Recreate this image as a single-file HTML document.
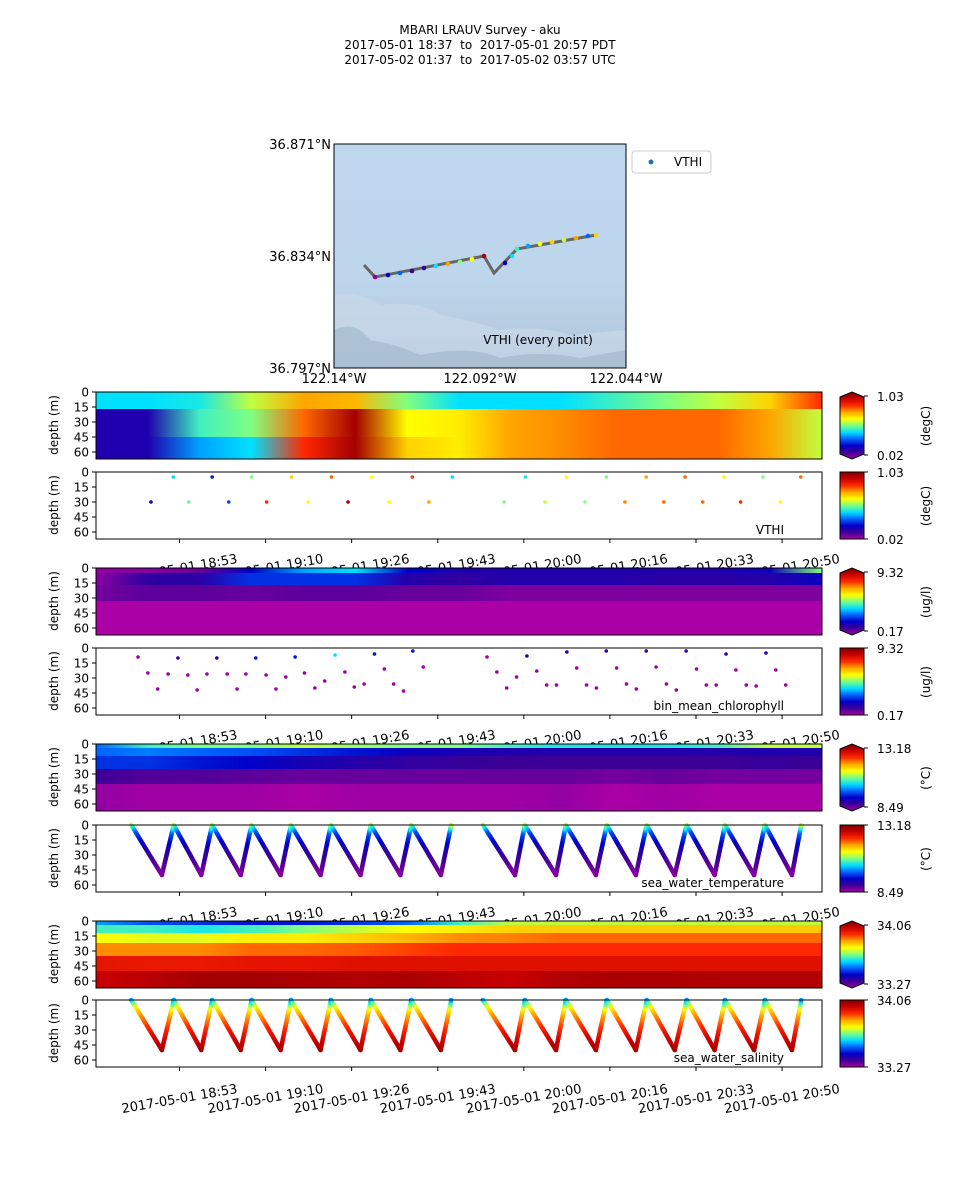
<!DOCTYPE html>
<html><head><meta charset="utf-8">
<style>
html,body{margin:0;padding:0;background:#fff;}
svg{display:block;font-family:"DejaVu Sans","Liberation Sans",sans-serif;}
</style></head>
<body>
<svg id="fig" width="960" height="1200" viewBox="0 0 960 1200" xmlns="http://www.w3.org/2000/svg">
<g font-size="12" text-anchor="middle" fill="#000">
<text x="480" y="34">MBARI LRAUV Survey - aku</text>
<text x="480" y="49">2017-05-01 18:37 &#160;to &#160;2017-05-01 20:57 PDT</text>
<text x="480" y="64">2017-05-02 01:37 &#160;to &#160;2017-05-02 03:57 UTC</text>
</g>
<defs>
<linearGradient id="mapbg" x1="0" y1="0" x2="0" y2="1">
<stop offset="0" stop-color="#bfd7ee"/><stop offset="0.6" stop-color="#bed6ec"/><stop offset="0.85" stop-color="#b5cbe0"/><stop offset="1" stop-color="#9fb7cc"/>
</linearGradient>
</defs>
<g id="map">
<rect x="334" y="144" width="292" height="224" fill="url(#mapbg)"/>
<path d="M334 295 Q360 290 380 305 Q420 300 440 315 Q470 320 500 330 Q540 325 570 335 L626 330 L626 368 L334 368 Z" fill="#c9d9e8" opacity="0.7"/>
<path d="M334 330 Q355 320 370 340 Q400 345 420 355 Q470 345 500 358 Q540 350 580 358 L626 350 L626 368 L334 368 Z" fill="#a3b9cd" opacity="0.7"/>
<polyline points="364,265 375,277 484,256 494,273 517,249 596,235" fill="none" stroke="#666" stroke-width="3"/>
<g id="mapdots"></g>
<text x="538" y="344" font-size="12" text-anchor="middle">VTHI (every point)</text>
<rect x="334" y="144" width="292" height="224" fill="none" stroke="#000" stroke-width="1"/>
<g font-size="13" fill="#000">
<text x="331" y="149" text-anchor="end">36.871°N</text>
<text x="331" y="261" text-anchor="end">36.834°N</text>
<text x="331" y="373" text-anchor="end">36.797°N</text>
<text x="334" y="383" text-anchor="middle">122.14°W</text>
<text x="480" y="383" text-anchor="middle">122.092°W</text>
<text x="626" y="383" text-anchor="middle">122.044°W</text>
</g>
<g>
<rect x="632" y="151" width="79" height="22" rx="3" fill="#fff" stroke="#ccc"/>
<circle cx="651" cy="162" r="2.5" fill="#1f77b4"/>
<text x="674" y="166" font-size="12">VTHI</text>
</g>
</g>
<g id="panels"></g>
</svg>
<script>
// ---- data ----
const tickLabels = ["2017-05-01 18:53","2017-05-01 19:10","2017-05-01 19:26","2017-05-01 19:43","2017-05-01 20:00","2017-05-01 20:16","2017-05-01 20:33","2017-05-01 20:50"];
const tickMinutes = [16.1, 32.7, 49.3, 65.9, 82.5, 99.1, 115.7, 132.3];
const depthTicks = [0, 15, 30, 45, 60];
const gridMinutes = [0,10,20,30,40,50,60,70,80,90,100,110,120,130,140];

const vthiBands = [[0,17],[17,45],[45,67]];
const vthiGrid = [
 [.40,.40,.42,.55,.70,.68,.50,.40,.40,.40,.45,.50,.55,.65,.80],
 [.15,.15,.45,.50,.75,.95,.60,.62,.70,.72,.75,.75,.75,.70,.55],
 [.15,.15,.35,.40,.80,.95,.65,.62,.70,.72,.75,.75,.75,.70,.55]];
const chlBands = [[0,5],[5,17],[17,33],[33,67]];
const chlGrid = [
 [.02,.03,.06,.20,.35,.40,.20,.15,.15,.15,.15,.15,.15,.18,.50],
 [.03,.12,.13,.25,.25,.25,.14,.12,.14,.14,.14,.13,.13,.14,.18],
 [.05,.07,.07,.06,.07,.07,.06,.06,.04,.04,.04,.04,.04,.04,.04],
 [.0,.0,.0,.0,.0,.0,.0,.0,.0,.0,.0,.0,.0,.0,.0]];
const tempBands = [[0,4],[4,12],[12,25],[25,40],[40,67]];
const tempGrid = [
 [.30,.45,.50,.50,.55,.52,.50,.50,.45,.42,.42,.42,.45,.55,.55],
 [.30,.32,.30,.28,.25,.22,.18,.16,.15,.14,.14,.14,.14,.15,.15],
 [.25,.25,.22,.20,.16,.14,.12,.11,.10,.10,.10,.10,.10,.11,.10],
 [.10,.08,.08,.07,.06,.06,.06,.06,.06,.06,.05,.06,.05,.05,.05],
 [.02,.01,.01,.01,.0,.01,.01,.01,.01,.02,.0,.01,.0,.0,.0]];
const salBands = [[0,4],[4,12],[12,22],[22,35],[35,50],[50,67]];
const salGrid = [
 [.35,.28,.25,.22,.22,.25,.30,.45,.55,.55,.55,.55,.55,.55,.55],
 [.45,.45,.42,.45,.50,.55,.60,.62,.65,.66,.66,.66,.66,.66,.66],
 [.60,.58,.58,.62,.62,.65,.68,.72,.73,.75,.75,.75,.75,.75,.75],
 [.72,.72,.72,.75,.75,.76,.78,.80,.80,.80,.80,.80,.80,.80,.80],
 [.85,.84,.84,.85,.85,.86,.86,.86,.86,.86,.86,.86,.86,.86,.86],
 [.90,.92,.95,.95,.94,.93,.94,.92,.90,.93,.94,.94,.93,.93,.93]];

const vthiTimes = [14.9,22.4,30.0,37.7,45.4,53.1,61.0,68.7,82.8,90.7,98.4,106.1,113.6,121.1,128.6,135.9,
                   10.6,17.9,25.6,32.9,40.9,48.6,56.5,64.2,78.7,86.6,94.3,102.0,109.5,117.0,124.3,132.0];
const vthiDepths = [5,5,5,5,5,5,5,5,5,5,5,5,5,5,5,5, 30,30,30,30,30,30,30,30,30,30,30,30,30,30,30,30];
const vthiValues = [.40,.22,.50,.65,.75,.60,.78,.40,.42,.60,.50,.70,.75,.60,.50,.75,
                    .15,.48,.27,.80,.60,.95,.60,.70,.50,.55,.50,.72,.75,.75,.80,.60];
const chlTimes = [8.1,10.0,11.9,13.9,15.8,17.7,19.5,21.4,23.3,25.3,27.2,28.9,30.8,32.8,34.7,36.6,38.4,40.2,42.2,44.1,46.1,48.0,49.8,51.7,53.7,55.6,57.4,59.3,61.1,63.1,
                  75.4,77.3,79.2,81.1,83.1,85.0,86.9,88.8,90.8,92.7,94.6,96.5,98.4,100.4,102.3,104.2,106.1,108.0,110.0,111.9,113.8,115.8,117.7,119.6,121.5,123.4,125.4,127.3,129.2,131.1,133.0];
const chlDepths = [9,25,41,26,10,27,42,26,10,26,41,26,10,27,41,29,9,25,40,33,7,24,39,36,6,21,36,43,3,19,
                   9,24,40,29,8,23,37,37,4,20,37,40,3,20,36,41,3,19,36,42,3,21,37,37,6,22,37,38,5,22,37];
const chlValues = [.01,.01,.01,.01,.12,.01,.01,.01,.12,.01,.01,.01,.22,.01,.01,.01,.22,.01,.01,.01,.40,.01,.01,.01,.22,.01,.01,.01,.22,.01,
                   .01,.01,.01,.01,.12,.01,.01,.01,.12,.01,.01,.01,.12,.01,.01,.01,.12,.01,.01,.01,.12,.01,.01,.01,.12,.01,.01,.01,.12,.01,.01];
const yoyoTimes = [6.8,12.7,15.0,20.3,22.4,27.9,30.0,35.6,37.6,43.3,45.3,51.0,53.0,58.7,60.8,66.5,68.5, null,
                   74.6,80.8,82.7,88.7,90.6,96.4,98.5,104.1,106.2,111.6,113.9,119.3,121.3,126.9,129.0,134.2,136.0];
const yoyoDepths = [0,50,0,50,0,50,0,50,0,50,0,50,0,50,0,50,0, null,
                    0,50,0,50,0,50,0,50,0,50,0,50,0,50,0,50,0];
const profDepths = [0,3,8,15,25,35,50];
const tempProfile = [.55,.42,.28,.22,.14,.09,.03];
const salProfile = [.35,.45,.60,.70,.78,.86,.95];

// ---- helpers ----
const NS = "http://www.w3.org/2000/svg";
const X0 = 96, X1 = 822, T0 = 0, T1 = 140;
function xScale(t){ return X0 + (t - T0) * (X1 - X0) / (T1 - T0); }
const cmapStops = [[0,[170,0,165]],[.1,[60,0,150]],[.2,[0,0,200]],[.3,[0,100,255]],[.4,[0,225,255]],[.5,[128,255,128]],[.6,[255,255,0]],[.7,[255,165,0]],[.8,[255,40,0]],[.9,[200,0,0]],[1,[128,0,0]]];
function cmap(v){
  v = Math.max(0, Math.min(1, v));
  for (let i = 1; i < cmapStops.length; i++) {
    if (v <= cmapStops[i][0]) {
      const a = cmapStops[i-1], b = cmapStops[i], f = (v - a[0]) / (b[0] - a[0]);
      const c = a[1].map((x, k) => Math.round(x + (b[1][k] - x) * f));
      return "rgb(" + c.join(",") + ")";
    }
  }
  return "rgb(128,0,0)";
}
function mk(tag, attrs, parent){
  const e = document.createElementNS(NS, tag);
  for (const k in attrs) e.setAttribute(k, attrs[k]);
  if (parent) parent.appendChild(e);
  return e;
}
const root = document.getElementById("panels");
const defs = mk("defs", {}, root);
let gid = 0;

function axesFrame(g, top, ylab){
  const yS = d => top + d;
  depthTicks.forEach(d => {
    mk("line", {x1: X0-4, x2: X0, y1: yS(d), y2: yS(d), stroke: "#000"}, g);
    const t = mk("text", {x: X0-7, y: yS(d)+4.5, "font-size": 12, "text-anchor": "end"}, g);
    t.textContent = d;
  });
  const yl = mk("text", {x: 0, y: 0, "font-size": 12, "text-anchor": "middle", transform: "translate(58," + (top+33) + ") rotate(-90)"}, g);
  
  
  yl.textContent = ylab;
}
function timeTicks(g, top, offset, marks){
  tickMinutes.forEach((m, i) => {
    const x = xScale(m);
    if (marks) mk("line", {x1: x, x2: x, y1: top+67, y2: top+71, stroke: "#000"}, g);
    const cy = top + 67 + offset;
    const t = mk("text", {x: x, y: cy + 4, "font-size": 13, "text-anchor": "middle", transform: "rotate(-10 " + x + " " + cy + ")"}, g);
    
    
    t.textContent = tickLabels[i];
  });
}
function colorbar(g, top, vmax, vmin, unit, extend){
  const id = "cb" + (gid++);
  const lg = mk("linearGradient", {id: id, x1: 0, y1: 1, x2: 0, y2: 0}, defs);
  for (let i = 0; i <= 20; i++) mk("stop", {offset: i/20, "stop-color": cmap(i/20)}, lg);
  const cb = mk("g", {}, g);
  
  
  if (extend) {
    mk("path", {d: "M840 " + (top+5) + " L852 " + top + " L864 " + (top+5) + " L864 " + (top+62) + " L852 " + (top+67) + " L840 " + (top+62) + " Z", fill: "url(#" + id + ")", stroke: "#000"}, cb);
  } else {
    mk("rect", {x: 840, y: top, width: 24, height: 67, fill: "url(#" + id + ")", stroke: "#000"}, cb);
  }
  const yt = extend ? top+4 : top, yb = extend ? top+63 : top+67;
  mk("line", {x1: 864, x2: 868, y1: yt, y2: yt, stroke: "#000"}, cb);
  mk("line", {x1: 864, x2: 868, y1: yb, y2: yb, stroke: "#000"}, cb);
  const a = mk("text", {x: 877, y: yt+5, "font-size": 12}, cb); a.textContent = vmax;
  const b = mk("text", {x: 877, y: yb+5, "font-size": 12}, cb); b.textContent = vmin;
  const u = mk("text", {x: 0, y: 0, "font-size": 12, "text-anchor": "middle", transform: "translate(930," + (top+34) + ") rotate(-90)"}, cb);
  u.textContent = unit;
}
function contourPanel(name, top, bands, grid, vmax, vmin, unit){
  const g = mk("g", {}, root);
  
  
  mk("rect", {x: X0, y: top, width: X1-X0, height: 67, fill: "#fff"}, g);
  bands.forEach((bd, r) => {
    const id = "cg" + (gid++);
    const lg = mk("linearGradient", {id: id, x1: 0, y1: 0, x2: 1, y2: 0}, defs);
    grid[r].forEach((v, i) => mk("stop", {offset: (xScale(gridMinutes[i]) - X0) / (X1 - X0), "stop-color": cmap(v)}, lg));
    const rc = mk("rect", {x: X0, y: top + bd[0], width: X1-X0, height: Math.min(67, bd[1]) - bd[0] + 0.5, fill: "url(#" + id + ")"}, g);
    
    
  });
  mk("rect", {x: X0, y: top, width: X1-X0, height: 67, fill: "none", stroke: "#000"}, g);
  axesFrame(g, top, "depth (m)");
  colorbar(g, top, vmax, vmin, unit, true);
  return g;
}
function scatterPanel(name, top, times, depths, values, label, vmax, vmin, unit, r){
  const g = mk("g", {}, root);
  
  
  mk("rect", {x: X0, y: top, width: X1-X0, height: 67, fill: "#fff"}, g);
  times.forEach((t, i) => {
    const c = mk("circle", {cx: xScale(t), cy: top + depths[i], r: r, fill: cmap(values[i])}, g);
    
    
  });
  mk("rect", {x: X0, y: top, width: X1-X0, height: 67, fill: "none", stroke: "#000"}, g);
  const lt = mk("text", {x: 784, y: top+62, "font-size": 12, "text-anchor": "end"}, g);
  lt.textContent = label;
  axesFrame(g, top, "depth (m)");
  colorbar(g, top, vmax, vmin, unit, false);
  return g;
}
function interpProfile(prof, d){
  for (let i = 1; i < profDepths.length; i++) {
    if (d <= profDepths[i]) { const f = (d - profDepths[i-1]) / (profDepths[i] - profDepths[i-1]); return prof[i-1] + (prof[i]-prof[i-1]) * f; }
  }
  return prof[prof.length-1];
}
function yoyoPanel(name, top, prof, label, vmax, vmin, unit){
  const ts = [], ds = [], vs = [];
  for (let i = 1; i < yoyoTimes.length; i++) {
    if (yoyoTimes[i] === null || yoyoTimes[i-1] === null) continue;
    const n = 40;
    for (let k = 0; k <= n; k++) {
      const t = yoyoTimes[i-1] + (yoyoTimes[i] - yoyoTimes[i-1]) * k / n;
      const d = yoyoDepths[i-1] + (yoyoDepths[i] - yoyoDepths[i-1]) * k / n;
      ts.push(t); ds.push(d); vs.push(interpProfile(prof, d));
    }
  }
  return scatterPanel(name, top, ts, ds, vs, label, vmax, vmin, unit, 2.3);
}

const tops = [392, 472, 568, 648, 744, 825, 921, 1000];
contourPanel("vthi-contour", tops[0], vthiBands, vthiGrid, "1.03", "0.02", "(degC)");
let g = scatterPanel("vthi-scatter", tops[1], vthiTimes, vthiDepths, vthiValues, "VTHI", "1.03", "0.02", "(degC)", 1.8);
timeTicks(g, tops[1], 30, true);
contourPanel("chlorophyll-contour", tops[2], chlBands, chlGrid, "9.32", "0.17", "(ug/l)");
g = scatterPanel("chlorophyll-scatter", tops[3], chlTimes, chlDepths, chlValues, "bin_mean_chlorophyll", "9.32", "0.17", "(ug/l)", 1.8);
timeTicks(g, tops[3], 30, true);
contourPanel("temperature-contour", tops[4], tempBands, tempGrid, "13.18", "8.49", "(\u00B0C)");
g = yoyoPanel("temperature-scatter", tops[5], tempProfile, "sea_water_temperature", "13.18", "8.49", "(\u00B0C)");
timeTicks(g, tops[5], 30, true);
contourPanel("salinity-contour", tops[6], salBands, salGrid, "34.06", "33.27", "");
g = yoyoPanel("salinity-scatter", tops[7], salProfile, "sea_water_salinity", "34.06", "33.27", "");
timeTicks(g, tops[7], 32, true);

const mapLon = [375,388,400,412,424,436,448,460,472,484,505,512,517,528,540,552,564,576,588,596];
const mapLat = [277,275,273,271,268,266,264,262,259,256,263,256,249,246,244,242,240,238,236,235];
const mapVals = [.02,.2,.3,.1,.1,.4,.7,.5,.6,.95,.2,.4,.45,.35,.6,.65,.55,.7,.3,.65];
const md = document.getElementById("mapdots");
mapLon.forEach((x, i) => {
  const c = mk("circle", {cx: x, cy: mapLat[i], r: 2.3, fill: cmap(mapVals[i])}, md);
  
  
});
</script>
</body></html>
